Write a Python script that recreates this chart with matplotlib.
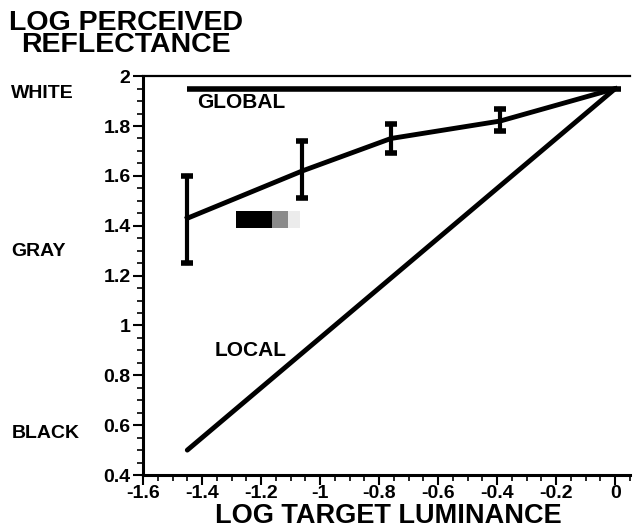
import matplotlib.pyplot as plt
from matplotlib.patches import Rectangle
from matplotlib.ticker import MultipleLocator

plt.rcParams['font.family'] = ['Liberation Sans', 'DejaVu Sans']
plt.rcParams['font.weight'] = 'bold'

# dados
lum_dados = [-1.45, -1.06, -0.76, -0.39, 0.0]
refl_dados = [1.43, 1.62, 1.75, 1.82, 1.95]
erro_baixo = [1.25, 1.51, 1.69, 1.78, None]
erro_alto = [1.60, 1.74, 1.81, 1.87, None]

global_x = [-1.45, 0.02]
global_y = [1.95, 1.95]
local_x = [-1.45, 0.0]
local_y = [0.50, 1.95]

fig = plt.figure(figsize=(6.34, 5.29), dpi=100)
ax = fig.add_axes([0.2256, 0.102, 0.768, 0.754])

ax.plot(global_x, global_y, color='black', lw=4, solid_capstyle='butt')
ax.plot(local_x, local_y, color='black', lw=3.5, solid_capstyle='round')
ax.plot(lum_dados, refl_dados, color='black', lw=3.5)

# barras de erro
for x, lo, hi in zip(lum_dados, erro_baixo, erro_alto):
    if lo is None:
        continue
    ax.plot([x, x], [lo, hi], color='black', lw=3)
    ax.plot([x - 0.02, x + 0.02], [lo, lo], color='black', lw=4, solid_capstyle='butt')
    ax.plot([x - 0.02, x + 0.02], [hi, hi], color='black', lw=4, solid_capstyle='butt')

# pequeno padrão de cinza
ax.add_patch(Rectangle((-1.285, 1.392), 0.122, 0.068, color='black', lw=0))
ax.add_patch(Rectangle((-1.163, 1.392), 0.055, 0.068, color='#8a8a8a', lw=0))
ax.add_patch(Rectangle((-1.108, 1.392), 0.04, 0.068, color='#ececec', lw=0))

ax.text(-1.417, 1.932, 'GLOBAL', fontsize=15, fontweight='bold', va='top')
ax.text(-1.356, 0.876, 'LOCAL', fontsize=15, fontweight='bold', va='baseline')

ax.set_xlim(-1.6, 0.05)
ax.set_ylim(0.4, 2.0)
ax.xaxis.set_minor_locator(MultipleLocator(0.05))
ax.yaxis.set_minor_locator(MultipleLocator(0.05))
ticks_x = [-1.6, -1.4, -1.2, -1.0, -0.8, -0.6, -0.4, -0.2, 0.0]
rot_x = ['-1.6', '-1.4', '-1.2', '-1', '-0.8', '-0.6', '-0.4', '-0.2', '0']
ax.set_xticks(ticks_x, rot_x)
ticks_y = [0.4, 0.6, 0.8, 1.0, 1.2, 1.4, 1.6, 1.8, 2.0]
rot_y = ['0.4', '0.6', '0.8', '1', '1.2', '1.4', '1.6', '1.8', '2']
ax.set_yticks(ticks_y, rot_y)
ax.tick_params(which='major', length=7, width=1.5, labelsize=14, pad=2)
ax.tick_params(axis='x', which='major', pad=0.5)
ax.tick_params(which='minor', length=4, width=1.2)
for lab in ax.get_xticklabels() + ax.get_yticklabels():
    lab.set_fontweight('bold')

ax.spines['right'].set_visible(False)
ax.spines['left'].set_linewidth(2.2)
ax.spines['bottom'].set_linewidth(2.2)
ax.spines['top'].set_linewidth(1.6)

fig.text(0.612, 0.0, 'LOG TARGET LUMINANCE', fontsize=19.5, fontweight='bold',
         ha='center', va='bottom')

fig.text(0.014, 0.981, 'LOG PERCEIVED\nREFLECTANCE', fontsize=20.5, fontweight='bold',
         va='top', ha='left', multialignment='center', linespacing=0.78)
fig.text(0.018, 0.824, 'WHITE', fontsize=14, fontweight='bold', va='center')
fig.text(0.018, 0.524, 'GRAY', fontsize=14, fontweight='bold', va='center')
fig.text(0.018, 0.181, 'BLACK', fontsize=14, fontweight='bold', va='center')

fig.savefig('out.png', dpi=100)
